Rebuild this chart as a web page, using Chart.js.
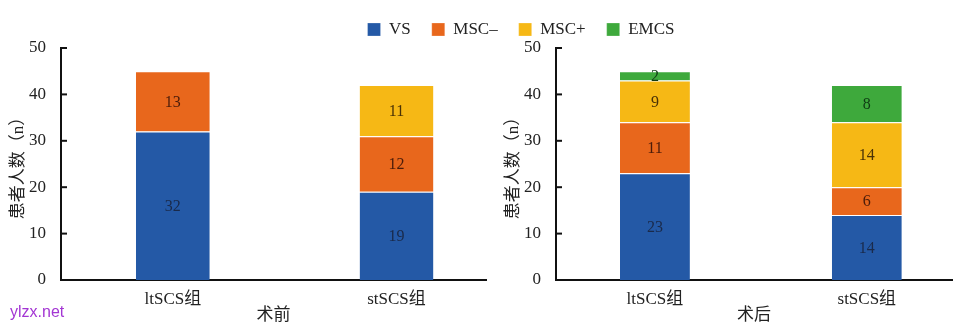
<!DOCTYPE html>
<html>
<head>
<meta charset="utf-8">
<script src="https://cdn.jsdelivr.net/npm/chart.js@4/dist/chart.umd.min.js"></script>
<style>
  html, body { margin: 0; padding: 0; background: #fff; overflow: hidden; }
  #wrap { position: relative; width: 957px; height: 329px; overflow: hidden; }
  #preChart { position: absolute; left: 0; top: 0; }
  #postChart { position: absolute; left: 495px; top: 0; }
  #mark { position: absolute; left: 10px; top: 303px; font: 16px "Liberation Sans", sans-serif; color: #a335d3; }
</style>
</head>
<body>
<div id="wrap">
  <canvas id="preChart" width="1042" height="329"></canvas>
  <canvas id="postChart" width="462" height="329"></canvas>
  <div id="mark">ylzx.net</div>
</div>
<script>
// data
var categories = ["ltSCS组", "stSCS组"];
var seriesNames = ["VS", "MSC–", "MSC+", "EMCS"];
var yTicks = [0, 10, 20, 30, 40, 50];

// 术前
var preVS = [32, 19];
var preMSCminus = [13, 12];
var preMSCplus = [0, 11];
var preEMCS = [0, 0];

// 术后
var postVS = [23, 14];
var postMSCminus = [11, 6];
var postMSCplus = [9, 14];
var postEMCS = [2, 8];

var barColors = ["#2459a6", "#e8671c", "#f6b815", "#3ea93c"];
var labelColors = ["#1a2a4a", "#4a1c0a", "#4a3206", "#0f3a14"];
var serif = "'Liberation Serif', 'Noto Sans CJK SC', serif";

function makeDatasets(lists) {
  return seriesNames.map(function (name, k) {
    return {
      label: name,
      data: lists[k].map(function (v, i) { return { x: i, y: v }; }),
      backgroundColor: barColors[k],
      borderColor: "#ffffff",
      borderWidth: { top: 1, left: 0, right: 0, bottom: 0 },
      stack: "s",
      barPercentage: 0.33,
      categoryPercentage: 1
    };
  });
}

// numbers in the bar segments
var segmentLabels = {
  id: "segmentLabels",
  afterDatasetsDraw: function (chart) {
    var ctx = chart.ctx;
    ctx.save();
    ctx.font = "16px " + serif;
    ctx.textAlign = "center";
    ctx.textBaseline = "middle";
    chart.data.datasets.forEach(function (ds, k) {
      var meta = chart.getDatasetMeta(k);
      meta.data.forEach(function (bar, i) {
        var v = ds.data[i].y;
        if (!v) return;
        ctx.fillStyle = labelColors[k];
        ctx.fillText(String(v), bar.x, (bar.y + bar.base) / 2 + 1);
      });
    });
    ctx.restore();
  }
};

// short tick marks pointing into the plot
var innerTicks = {
  id: "innerTicks",
  afterDraw: function (chart) {
    var ctx = chart.ctx, y = chart.scales.y, left = chart.chartArea.left;
    ctx.save();
    ctx.strokeStyle = "#111";
    ctx.lineWidth = 2;
    yTicks.forEach(function (t) {
      var py = y.getPixelForValue(t);
      ctx.beginPath();
      ctx.moveTo(left, py);
      ctx.lineTo(left + 6, py);
      ctx.stroke();
    });
    ctx.restore();
  }
};

function makeOptions(xMin, xMax, xTitle, extra) {
  var opts = {
    responsive: false,
    devicePixelRatio: 1,
    animation: false,
    layout: { padding: { top: 0, right: 0, bottom: 0, left: 0 } },
    plugins: {
      legend: { display: false },
      tooltip: { enabled: false }
    },
    scales: {
      x: {
        type: "linear",
        offset: false,
        min: xMin,
        max: xMax,
        afterBuildTicks: function (s) {
          s.ticks = categories.map(function (c, i) { return { value: i }; });
        },
        afterFit: function (s) { s.height = 49; },
        grid: { display: false, offset: false },
        border: { display: true, color: "#111", width: 2 },
        ticks: {
          autoSkip: false,
          maxRotation: 0,
          padding: 1,
          color: "#222",
          font: { family: serif, size: 17 },
          callback: function (v) { return categories[v]; }
        },
        title: {
          display: true,
          text: xTitle,
          color: "#222",
          font: { family: serif, size: 17 },
          padding: { top: 0, bottom: 3 }
        }
      },
      y: {
        stacked: true,
        min: 0,
        max: 50,
        afterBuildTicks: function (s) {
          s.ticks = yTicks.map(function (t) { return { value: t }; });
        },
        afterFit: function (s) { s.width = 61; },
        grid: { display: false },
        border: { display: true, color: "#111", width: 2 },
        ticks: {
          padding: 7,
          color: "#222",
          font: { family: serif, size: 17 }
        },
        title: {
          display: true,
          text: "患者人数（n）",
          color: "#222",
          font: { family: serif, size: 17 },
          padding: { top: 8, bottom: 0 }
        }
      }
    }
  };
  if (extra) extra(opts);
  return opts;
}

// 术前 chart carries the shared legend across the full width
new Chart(document.getElementById("preChart"), {
  type: "bar",
  data: { datasets: makeDatasets([preVS, preMSCminus, preMSCplus, preEMCS]) },
  options: makeOptions(-0.5, 1.4, "术前", function (o) {
    o.plugins.legend = {
      display: true,
      position: "top",
      labels: {
        boxWidth: 13,
        boxHeight: 13,
        padding: 21,
        color: "#222",
        font: { family: serif, size: 17 }
      }
    };
    o.scales.r1 = {
      type: "linear",
      position: "right",
      display: true,
      grid: { display: false },
      border: { display: false },
      ticks: { display: false },
      afterFit: function (s) { s.width = 1042 - 486; }
    };
  }),
  plugins: [segmentLabels, innerTicks]
});

// 术后 chart
new Chart(document.getElementById("postChart"), {
  type: "bar",
  data: { datasets: makeDatasets([postVS, postMSCminus, postMSCplus, postEMCS]) },
  options: makeOptions(-0.467, 1.402, "术后", function (o) {
    o.layout.padding = { top: 48, right: 5, bottom: 0, left: 0 };
  }),
  plugins: [segmentLabels, innerTicks]
});
</script>
</body>
</html>
